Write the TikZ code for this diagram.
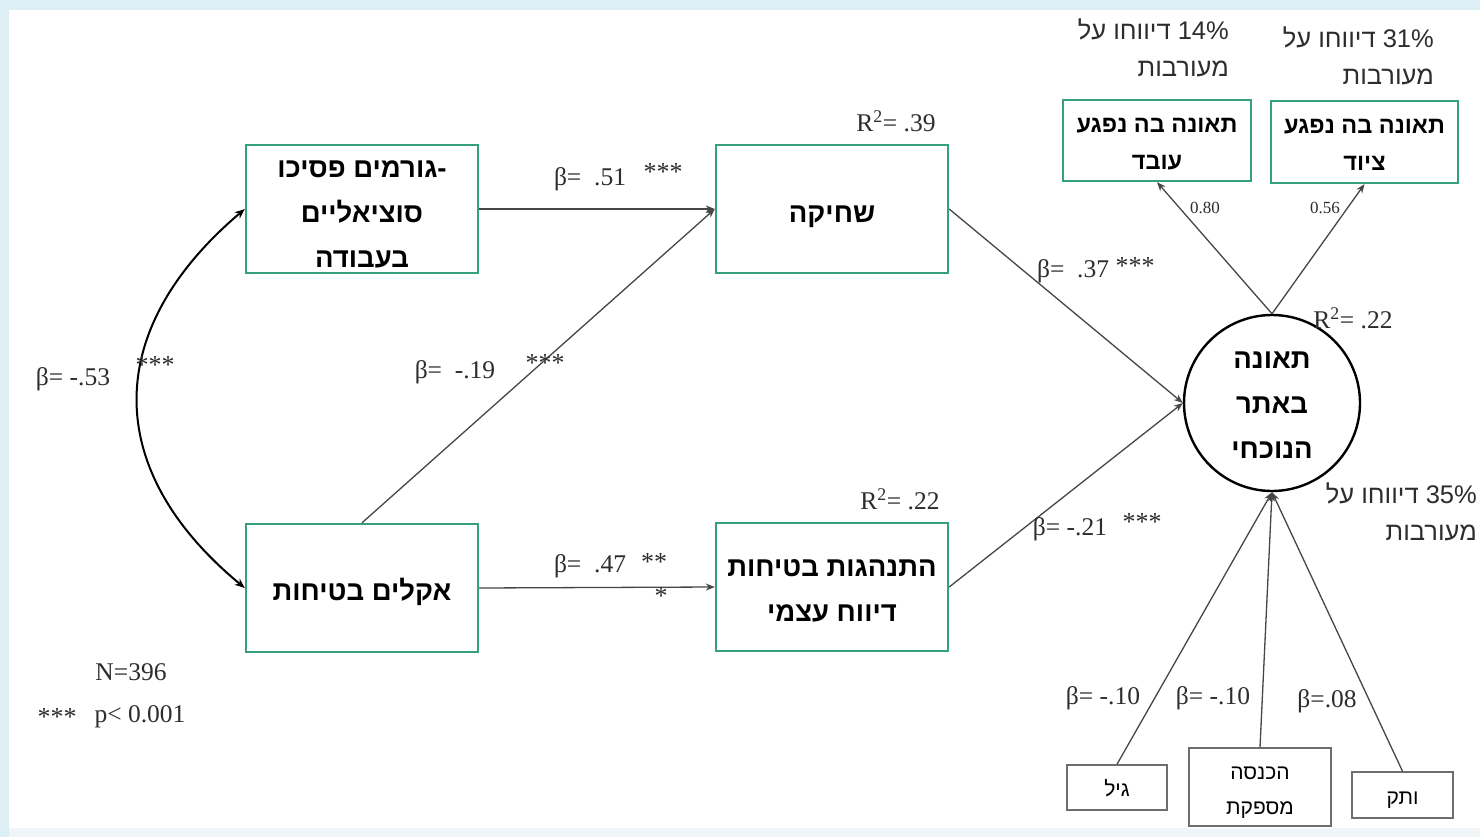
\documentclass[tikz,border=0pt]{standalone}
\usepackage{fontspec}
\setmainfont{Liberation Serif}
\newfontfamily\hebfont[Script=Hebrew]{Liberation Sans}
\TeXXeTstate=1
\usetikzlibrary{arrows.meta}
\newcommand{\hb}[1]{\beginR#1\endR}
\definecolor{boxgreen}{RGB}{52,160,128}
\definecolor{bgblue}{RGB}{221,238,245}
\definecolor{bgbottom}{RGB}{240,245,247}
\definecolor{linegray}{RGB}{70,70,70}
\definecolor{smallbox}{RGB}{110,110,110}
\definecolor{txtgray}{RGB}{45,45,45}
\begin{document}
\begin{tikzpicture}[x=1pt,y=-1pt,
  mainbox/.style={draw=boxgreen, line width=2.4pt, minimum width=232pt, minimum height=128pt, inner sep=0pt, align=center, text depth=0pt, font={\hebfont\bfseries\fontsize{27.5}{45}\selectfont}},
  topbox/.style={draw=boxgreen, line width=2.2pt, inner sep=0pt, align=center, text depth=0pt, font={\hebfont\bfseries\fontsize{23.5}{37}\selectfont}},
  ctrlbox/.style={draw=smallbox, line width=1.5pt, inner sep=0pt, align=center, text depth=0pt, font={\hebfont\fontsize{21}{35}\selectfont}},
  pct/.style={inner sep=0pt, align=right, text=txtgray, font={\hebfont\fontsize{25.5}{37}\selectfont}},
  lbl/.style={inner sep=0pt, text=txtgray, font={\fontsize{25.5}{30}\selectfont}},
  small/.style={inner sep=0pt, text=txtgray, font={\fontsize{17}{20}\selectfont}},
  stars/.style={inner sep=0pt, text=txtgray, font={\fontsize{26}{30}\selectfont}},
  arr/.style={draw=linegray, line width=1.3pt, -{Stealth[length=9pt,width=7pt]}},
  curvearr/.style={draw=black, line width=2pt, {Stealth[length=10pt,width=8pt]}-{Stealth[length=10pt,width=8pt]}}
]
\useasboundingbox (0,0) rectangle (1480,837);
% background
\fill[bgblue] (0,0) rectangle (1480,837);
\fill[white] (9,10) rectangle (1480,828);
\fill[bgbottom] (9,828) rectangle (1480,837);

% main boxes
\node[mainbox, text height=117pt] (A) at (362,209) {\hb{גורמים פסיכו}\kern0pt-\\\hb{סוציאליים}\\\hb{בעבודה}};
\node[mainbox, text height=24.5pt] (B) at (362,588) {\hb{אקלים בטיחות}};
\node[mainbox, text height=27pt] (C) at (832,209) {\hb{שחיקה}};
\node[mainbox, text height=68.5pt] (D) at (832,587) {\hb{התנהגות בטיחות}\\\hb{דיווח עצמי}};
\node[draw=black, line width=2.4pt, circle, minimum size=176pt, inner sep=0pt, align=center, text height=111.5pt, text depth=0pt,
      font={\hebfont\bfseries\fontsize{27.5}{45}\selectfont}] (E) at (1272,403) {\hb{תאונה}\\\hb{באתר}\\\hb{הנוכחי}};

% indicator boxes
\node[topbox, minimum width=188pt, minimum height=81pt, text height=58.5pt] (F) at (1157,140.5) {\hb{תאונה בה נפגע}\\\hb{עובד}};
\node[topbox, minimum width=187pt, minimum height=82pt, text height=57.5pt] (G) at (1364.5,142) {\hb{תאונה בה נפגע}\\\hb{ציוד}};

% control boxes
\node[ctrlbox, minimum width=100pt, minimum height=45pt, text height=18pt] (H) at (1117,787.5) {\hb{גיל}};
\node[ctrlbox, minimum width=142pt, minimum height=78pt, text height=54pt] (I) at (1260,787) {\hb{הכנסה}\\\hb{מספקת}};
\node[ctrlbox, minimum width=101pt, minimum height=46pt, text height=19pt] (J) at (1402.5,795) {\hb{ותק}};

% percentage labels
\node[pct, anchor=east] (p14) at (1229,48) {\hb{\beginL 14\%\endL{} דיווחו על}\\\hb{מעורבות}};
\node[pct, anchor=east] (p31) at (1434,55.5) {\hb{\beginL 31\%\endL{} דיווחו על}\\\hb{מעורבות}};
\node[pct, anchor=east] (p35) at (1477,512) {\hb{\beginL 35\%\endL{} דיווחו על}\\\hb{מעורבות}};

% connectors
\draw[arr] (A.east) -- (C.west);
\draw[arr] (B.north) -- (C.west);
\draw[arr] (B.east) -- (D.west);
\draw[arr] (C.east) -- (E.west);
\draw[arr] (D.east) -- (E.west);
\draw[arr] (E.north) -- (F.south);
\draw[arr] (E.north) -- (G.south);
\draw[arr] (H.north) -- (E.south);
\draw[arr] (I.north) -- (E.south);
\draw[arr] (J.north) -- (E.south);
\draw[curvearr] (A.west) .. controls (102,330) and (102,470) .. (B.west);

% coefficient labels
\node[lbl] (l51) at (590,179) {β=\ \ .51};
\node[stars] (s51) at (663,172) {***};
\node[lbl] (l19) at (455,372) {β=\ \ -.19};
\node[stars] (s19) at (545,363) {***};
\node[lbl] (l53) at (73,379) {β= -.53};
\node[stars] (s53) at (155,365) {***};
\node[lbl] (l47) at (590,566) {β=\ \ .47};
\node[stars] (s47a) at (654,562) {**};
\node[stars] (s47b) at (661,596) {*};
\node[lbl] (l37) at (1073,271) {β=\ \ .37};
\node[stars] (s37) at (1135,266) {***};
\node[lbl] (l21) at (1070,529) {β= -.21};
\node[stars] (s21) at (1142,522) {***};
\node[lbl] (r39) at (896,121) {R\textsuperscript{2}= .39};
\node[lbl] (r22a) at (900,499) {R\textsuperscript{2}= .22};
\node[lbl] (r22b) at (1353,318) {R\textsuperscript{2}= .22};
\node[small] (l80) at (1205,208) {0.80};
\node[small] (l56) at (1325,208) {0.56};
\node[lbl] (l10a) at (1103,698) {β= -.10};
\node[lbl] (l10b) at (1213,698) {β= -.10};
\node[lbl] (l08) at (1327,701) {β=.08};
\node[lbl] (n396) at (131,672) {N=396};
\node[stars] (sp) at (57,717) {***};
\node[lbl] (pval) at (140,717) {p< 0.001};
\end{tikzpicture}
\end{document}
